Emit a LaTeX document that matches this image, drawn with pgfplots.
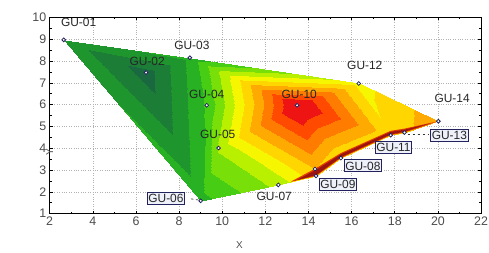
\documentclass[border=0pt]{standalone}
\usepackage{pgfplots}
\pgfplotsset{compat=1.18}
\usepackage{pgfplotstable}
\usepackage{fontspec}
\setmainfont{Liberation Sans}

\definecolor{navy}{HTML}{22225E}
\definecolor{boxfill}{HTML}{EEF0FA}
\definecolor{stripred}{HTML}{E03A00}
\definecolor{stripdark}{HTML}{9A1410}

% triangulated surface: three rows per triangle (x, y, value)
\pgfplotstableread{
x y z
2.65 8.97 2.6
6.47 7.47 0.5
8.50 8.15 3.3
2.65 8.97 2.6
6.47 7.47 0.5
9.00 1.59 3.6
6.47 7.47 0.5
8.50 8.15 3.3
9.28 5.97 4.2
6.47 7.47 0.5
9.28 5.97 4.2
9.00 1.59 3.6
9.28 5.97 4.2
9.83 4.01 6.2
9.00 1.59 3.6
9.83 4.01 6.2
9.00 1.59 3.6
12.60 2.32 6.3
8.50 8.15 3.3
9.28 5.97 4.2
13.47 5.97 13.4
8.50 8.15 3.3
13.47 5.97 13.4
16.33 6.97 7.6
9.28 5.97 4.2
9.83 4.01 6.2
13.47 5.97 13.4
9.83 4.01 6.2
12.60 2.32 6.3
14.30 3.05 9.0
9.83 4.01 6.2
14.30 3.05 9.0
13.47 5.97 13.4
12.60 2.32 6.3
14.35 2.73 8.5
14.30 3.05 9.0
14.30 3.05 9.0
14.35 2.73 8.5
15.50 3.55 8.0
14.30 3.05 9.0
15.50 3.55 8.0
13.47 5.97 13.4
13.47 5.97 13.4
15.50 3.55 8.0
17.81 4.60 8.2
13.47 5.97 13.4
17.81 4.60 8.2
16.33 6.97 7.6
16.33 6.97 7.6
17.81 4.60 8.2
18.45 4.72 8.8
16.33 6.97 7.6
18.45 4.72 8.8
20.02 5.24 9.6
}\tri

\pgfplotstableread{
x y
2.65 8.97
6.47 7.47
8.50 8.15
9.28 5.97
9.83 4.01
9.00 1.59
12.60 2.32
14.30 3.05
14.35 2.73
15.50 3.55
13.47 5.97
17.81 4.60
16.33 6.97
18.45 4.72
20.02 5.24
}\pts

\begin{document}
\begin{tikzpicture}
\begin{axis}[
  scale only axis, width=434pt, height=197.5pt,
  xmin=2, xmax=22, ymin=1, ymax=10,
  xtick={2,4,...,22}, ytick={1,2,...,10},
  minor x tick num=1, minor y tick num=1,
  tick align=inside, major tick length=3pt, minor tick length=2pt,
  grid=major, major grid style={dotted, black!30, line width=0.6pt},
  axis line style={black, line width=0.8pt},
  tick style={black, line width=0.6pt},
  ticklabel style={font=\fontsize{12.5}{13}\selectfont, text=black!70},
  /pgf/number format/assume math mode=true,
  xlabel={X}, ylabel={Y},
  label style={font=\fontsize{10}{11}\selectfont, text=black!70},
  xlabel style={at={(axis description cs:0.44,0)}, anchor=center, yshift=-32pt},
  ylabel style={at={(axis description cs:0,0.496)}, anchor=center, xshift=-36pt},
  colormap={gu}{
    rgb255(0cm)=(26,104,64)
    rgb255(1cm)=(28,126,54)
    rgb255(2cm)=(30,150,45)
    rgb255(3cm)=(40,178,35)
    rgb255(4cm)=(70,205,20)
    rgb255(5cm)=(120,224,8)
    rgb255(6cm)=(185,240,0)
    rgb255(7cm)=(246,246,0)
    rgb255(8cm)=(255,214,0)
    rgb255(9cm)=(255,170,0)
    rgb255(10cm)=(255,124,0)
    rgb255(11cm)=(255,74,0)
    rgb255(12cm)=(238,20,20)
    rgb255(13cm)=(238,20,20)
    rgb255(14cm)=(238,20,20)
  },
  colormap access=piecewise constant,
  point meta min=0, point meta max=14,
  clip=false,
]
\addplot[patch, patch type=triangle, shader=interp, point meta=\thisrow{z}]
  table[x=x, y=y] {\tri};

% thin dark-red band along the lower-right edge
\addplot[fill=stripred, draw=none] coordinates {
  (13.2,2.46) (14.35,2.73) (15.50,3.55) (17.81,4.60) (18.45,4.72) (20.02,5.24)
  (18.45,4.90) (17.81,4.80) (15.50,3.78) (14.30,3.06) (13.2,2.48)} -- cycle;
\addplot[fill=stripdark, draw=none] coordinates {
  (13.5,2.55) (14.35,2.77) (15.50,3.59) (17.81,4.64) (18.45,4.76) (19.6,5.13)
  (18.45,4.85) (17.81,4.75) (15.50,3.72) (14.32,2.99) (13.5,2.57)} -- cycle;

\addplot[only marks, mark=*, mark size=1.9pt,
  mark options={fill=white, draw=navy, line width=0.8pt}]
  table[x=x, y=y] {\pts};

\begin{scope}[every node/.style={font=\fontsize{12}{13}\selectfont, text=black!85, inner sep=1.5pt}]
\node at (axis cs:3.34,9.79) {GU-01};
\node at (axis cs:6.52,7.97) {GU-02};
\node at (axis cs:8.59,8.70) {GU-03};
\node at (axis cs:9.28,6.47) {GU-04};
\node at (axis cs:9.79,4.64) {GU-05};
\node at (axis cs:12.41,1.77) {GU-07};
\node at (axis cs:13.57,6.47) {GU-10};
\node at (axis cs:16.61,7.79) {GU-12};
\node at (axis cs:20.66,6.29) {GU-14};
\end{scope}
\begin{scope}[every node/.style={font=\fontsize{12}{13}\selectfont, text=black!85, draw=navy, fill=boxfill, line width=0.9pt, inner xsep=1.2pt, inner ysep=1.8pt}]
\draw[dash pattern=on 2.5pt off 2.5pt, black!80, line width=0.7pt] (axis cs:8.55,1.68) -- (axis cs:8.95,1.62);
\draw[dash pattern=on 2.5pt off 2.5pt, black!80, line width=0.7pt] (axis cs:18.6,4.62) -- (axis cs:19.55,4.62);
\node at (axis cs:7.39,1.68) {GU-06};
\node at (axis cs:16.52,3.19) {GU-08};
\node at (axis cs:15.36,2.32) {GU-09};
\node at (axis cs:17.94,4.05) {GU-11};
\node at (axis cs:20.53,4.60) {GU-13};
\end{scope}
\end{axis}
\pgfresetboundingbox
\path[use as bounding box] ([xshift=-50pt,yshift=-39pt]current axis.south west) rectangle ([xshift=8pt,yshift=17.5pt]current axis.north east);
\end{tikzpicture}
\end{document}
